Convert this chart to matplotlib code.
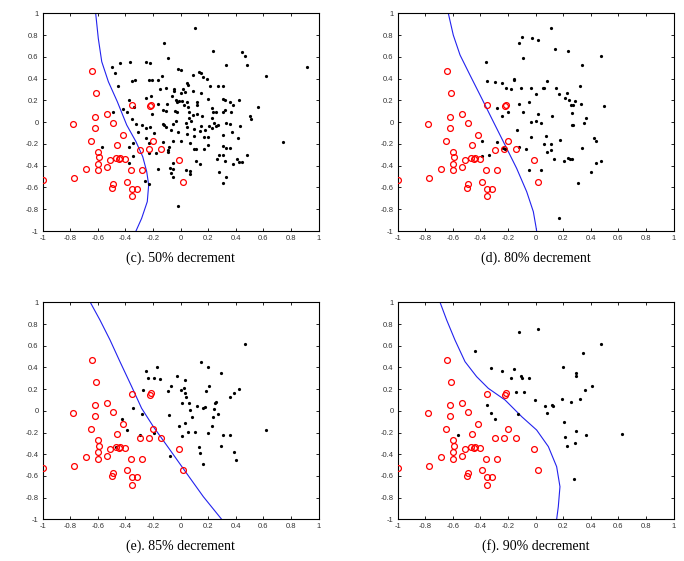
import matplotlib
matplotlib.use("Agg")
import matplotlib.pyplot as plt
import numpy as np

# Minority class (red circles), same in all panels
red_x = [-1.0, -0.78, -0.77, -0.686, -0.643, -0.614, -0.623, -0.623, -0.647, -0.597,
         -0.592, -0.60, -0.597, -0.531, -0.49, -0.51, -0.536, -0.488, -0.50, -0.47,
         -0.449, -0.437, -0.406, -0.459, -0.42, -0.355, -0.362, -0.39, -0.355, -0.32,
         -0.353, -0.28, -0.295, -0.232, -0.225, -0.215, -0.203, -0.145, -0.01, 0.02]
red_y = [-0.53, -0.02, -0.51, -0.43, 0.47, 0.27, 0.05, -0.05, -0.17, -0.27,
         -0.32, -0.38, -0.44, 0.075, -0.01, -0.35, -0.415, -0.57, -0.605, -0.33,
         -0.34, -0.33, -0.34, -0.21, -0.12, 0.155, -0.44, -0.55, -0.61, -0.61,
         -0.68, -0.44, -0.255, -0.25, 0.15, 0.16, -0.17, -0.25, -0.35, -0.55]

# Majority class (black dots), panel (c) 50% decrement
c_x = [0.101, -0.123, -0.094, 0.232, 0.444, 0.469, 0.481, 0.331, 0.918, 0.621,
       -0.5, -0.442, -0.367, -0.249, -0.222, -0.478, -0.454, -0.355, -0.328, -0.229,
       -0.208, -0.133, -0.164, -0.019, 0.002, 0.089, 0.133, 0.147, 0.164, 0.188,
       0.046, 0.051, 0.213, 0.268, 0.309, 0.425, 0.324, 0.309, 0.357, 0.379,
       0.563, 0.5, 0.507, -0.109, -0.147, -0.046, -0.048, 0.019, 0.0, 0.034,
       0.089, 0.147, -0.217, -0.249, -0.372, -0.063, -0.031, -0.01, 0.01, 0.043,
       -0.024, -0.101, -0.164, 0.024, 0.116, 0.196, 0.056, 0.116, -0.128, -0.106,
       -0.208, -0.336, -0.386, -0.42, -0.488, -0.355, -0.326, -0.039, -0.027, 0.058,
       0.089, 0.118, 0.155, 0.063, 0.072, -0.036, 0.036, 0.227, 0.234, 0.256,
       0.304, 0.319, 0.367, 0.225, 0.244, 0.271, 0.208, 0.227, 0.258, 0.329,
       0.357, 0.37, 0.427, -0.283, -0.249, -0.22, -0.193, -0.130, -0.118, -0.104,
       -0.058, -0.068, -0.017, 0.043, 0.046, 0.097, 0.147, 0.14, 0.176, 0.198,
       0.167, 0.097, 0.309, 0.415, -0.251, -0.232, -0.348, -0.372, -0.572, -0.126,
       -0.053, -0.082, -0.094, 0.005, 0.065, 0.097, 0.109, 0.167, 0.2, 0.309,
       0.331, 0.357, -0.094, -0.179, -0.232, -0.348, 0.261, 0.275, 0.304, 0.324,
       0.406, 0.425, 0.483, 0.447, 0.382, -0.058, 0.114, 0.143, -0.075, -0.053,
       0.039, 0.065, 0.07, -0.072, -0.058, -0.162, 0.28, 0.329, 0.304, -0.374,
       -0.256, -0.232, -0.022, 0.744, -0.307]
c_y = [0.862, 0.727, 0.593, 0.657, 0.645, 0.608, 0.522, 0.528, 0.504, 0.421,
       0.507, 0.544, 0.553, 0.556, 0.544, 0.452, 0.332, 0.375, 0.39, 0.384,
       0.387, 0.42, 0.384, 0.49, 0.479, 0.436, 0.464, 0.449, 0.412, 0.397,
       0.363, 0.341, 0.329, 0.332, 0.332, 0.2, 0.204, 0.21, 0.185, 0.161,
       0.142, 0.057, 0.032, 0.317, 0.302, 0.308, 0.289, 0.302, 0.268, 0.28,
       0.289, 0.268, 0.24, 0.219, 0.204, 0.237, 0.207, 0.191, 0.191, 0.182,
       0.185, 0.167, 0.167, 0.158, 0.185, 0.21, 0.139, 0.158, 0.112, 0.103,
       0.075, 0.136, 0.09, 0.12, 0.096, 0.028, -0.017, 0.103, 0.09, 0.09,
       0.063, 0.075, 0.06, 0.04, 0.013, 0.007, -0.009, 0.133, 0.09, 0.096,
       0.096, 0.109, 0.09, 0.038, -0.011, -0.023, -0.032, -0.054, -0.035, -0.011,
       -0.02, -0.087, -0.038, -0.026, -0.054, -0.041, -0.103, -0.02, -0.026, -0.047,
       -0.02, -0.072, -0.09, -0.044, -0.112, -0.06, -0.032, -0.081, -0.075, -0.136,
       -0.139, -0.127, -0.118, -0.149, -0.149, -0.191, -0.191, -0.225, -0.225, -0.179,
       -0.17, -0.225, -0.259, -0.176, -0.194, -0.247, -0.25, -0.247, -0.213, -0.222,
       -0.234, -0.24, -0.274, -0.283, -0.286, -0.308, -0.338, -0.302, -0.305, -0.357,
       -0.341, -0.369, -0.302, -0.363, -0.384, -0.375, -0.36, -0.384, -0.424, -0.433,
       -0.443, -0.446, -0.479, -0.47, -0.504, -0.427, -0.461, -0.504, -0.559, -0.375,
       -0.537, -0.571, -0.767, -0.185, -0.087]

# panel (d) 80% decrement
d_x = [0.109, -0.097, -0.027, 0.019, -0.118, 0.14, 0.234, -0.092, 0.471, 0.338,
       -0.362, -0.35, -0.292, -0.244, -0.159, -0.155, -0.215, -0.181, -0.106, -0.036,
       0.053, 0.063, 0.005, 0.08, 0.15, 0.169, 0.225, 0.213, 0.244, 0.283,
       0.319, 0.331, 0.493, 0.256, 0.273, -0.051, -0.121, -0.278, -0.198, -0.242,
       -0.089, 0.015, 0.116, -0.036, 0.0, 0.039, 0.266, 0.365, 0.261, 0.273,
       0.348, -0.135, 0.077, -0.036, 0.179, 0.42, 0.437, -0.386, -0.278, -0.118,
       -0.072, 0.111, 0.060, 0.114, 0.085, -0.234, -0.222, 0.338, -0.391, -0.338,
       0.135, 0.232, 0.251, 0.266, 0.205, 0.44, 0.473, 0.401, -0.048, 0.041,
       0.309, 0.167]
d_y = [0.862, 0.779, 0.773, 0.752, 0.727, 0.669, 0.657, 0.593, 0.608, 0.528,
       0.55, 0.375, 0.366, 0.363, 0.4, 0.384, 0.317, 0.305, 0.317, 0.311,
       0.311, 0.311, 0.256, 0.381, 0.311, 0.259, 0.271, 0.225, 0.204, 0.198,
       0.329, 0.164, 0.152, 0.158, 0.158, 0.182, 0.164, 0.133, 0.093, 0.06,
       0.09, 0.075, 0.057, 0.003, 0.013, -0.003, 0.084, 0.038, -0.023, -0.023,
       -0.011, -0.075, -0.127, -0.136, -0.164, -0.149, -0.17, -0.176, -0.185, -0.225,
       -0.247, -0.204, -0.2, -0.253, -0.277, -0.234, -0.247, -0.234, -0.308, -0.305,
       -0.338, -0.326, -0.338, -0.338, -0.36, -0.375, -0.36, -0.458, -0.436, -0.443,
       -0.559, -0.884]

# panel (e) 85% decrement
e_x = [0.466, 0.145, 0.196, -0.169, -0.249, 0.29, -0.239, -0.191, -0.147, -0.027,
       0.031, -0.07, 0.208, 0.423, 0.386, 0.357, -0.273, -0.092, 0.002, 0.024,
       0.031, 0.036, 0.184, 0.007, 0.058, 0.121, -0.345, -0.283, 0.068, 0.164,
       0.176, 0.242, 0.251, 0.254, 0.268, 0.237, -0.087, 0.085, -0.423, -0.391,
       -0.012, 0.031, 0.225, -0.297, -0.191, 0.053, 0.104, 0.2, 0.007, 0.309,
       0.357, 0.616, -0.466, 0.13, 0.138, 0.29, 0.384, 0.399, -0.077, 0.164]
e_y = [0.613, 0.453, 0.401, 0.401, 0.367, 0.349, 0.306, 0.306, 0.293, 0.324,
       0.284, 0.226, 0.226, 0.201, 0.164, 0.131, 0.192, 0.18, 0.192, 0.213,
       0.161, 0.124, 0.183, 0.075, 0.075, 0.045, 0.026, -0.029, 0.008, 0.026,
       0.032, 0.014, 0.069, 0.084, -0.026, -0.054, -0.038, -0.054, -0.075, -0.174,
       -0.14, -0.109, -0.14, -0.223, -0.207, -0.198, -0.192, -0.204, -0.232, -0.22,
       -0.22, -0.18, -0.336, -0.336, -0.386, -0.321, -0.382, -0.456, -0.416, -0.487]

# panel (f) 90% decrement
f_x = [0.017, -0.118, 0.471, 0.341, -0.437, 0.2, -0.324, -0.242, -0.155, 0.292,
       0.29, -0.181, -0.106, -0.099, -0.051, 0.406, 0.355, -0.14, -0.087, -0.353,
       -0.002, 0.193, 0.258, 0.321, 0.07, 0.116, 0.126, -0.324, -0.292, -0.128,
       0.08, 0.208, 0.29, -0.565, 0.21, 0.362, 0.623, 0.229, 0.285, 0.28]
f_y = [0.751, 0.73, 0.613, 0.53, 0.548, 0.401, 0.392, 0.364, 0.389, 0.346,
       0.324, 0.306, 0.318, 0.303, 0.306, 0.226, 0.195, 0.177, 0.177, 0.054,
       0.097, 0.112, 0.081, 0.112, 0.041, 0.051, 0.045, -0.023, -0.072, -0.029,
       -0.02, -0.106, -0.189, -0.223, -0.241, -0.223, -0.21, -0.321, -0.293, -0.625]

# Decision boundaries (blue curves)
bc_x = [-0.616, -0.597, -0.572, -0.524, -0.459, -0.391, -0.324, -0.275, -0.246, -0.232, -0.242, -0.283, -0.324]
bc_y = [1.0, 0.77, 0.556, 0.372, 0.188, -0.026, -0.179, -0.317, -0.455, -0.577, -0.73, -0.884, -1.0]
bd_x = [-0.633, -0.597, -0.548, -0.476, -0.391, -0.307, -0.222, -0.138, -0.065, -0.017, 0.002, 0.007]
bd_y = [1.0, 0.8, 0.617, 0.433, 0.219, 0.005, -0.21, -0.424, -0.639, -0.822, -0.96, -1.0]
be_x = [-0.655, -0.585, -0.512, -0.44, -0.355, -0.283, -0.198, -0.077, 0.043, 0.164, 0.297]
be_y = [1.0, 0.837, 0.653, 0.453, 0.223, 0.023, -0.146, -0.361, -0.576, -0.791, -1.0]
bf_x = [-0.693, -0.645, -0.585, -0.512, -0.428, -0.343, -0.222, -0.101, 0.007, 0.092, 0.152, 0.176, 0.164, 0.152]
bf_y = [1.0, 0.837, 0.653, 0.453, 0.315, 0.207, 0.1, -0.054, -0.177, -0.33, -0.515, -0.699, -0.883, -1.0]

captions = ["(c). 50% decrement", "(d). 80% decrement", "(e). 85% decrement", "(f). 90% decrement"]
xticks = [-1, -0.8, -0.6, -0.4, -0.2, 0, 0.2, 0.4, 0.6, 0.8, 1]
yticks = [-1, -0.8, -0.6, -0.4, -0.2, 0, 0.2, 0.4, 0.6, 0.8, 1]

fig = plt.figure(figsize=(6.84, 5.61), dpi=100)
positions = [[0.0624, 0.5882, 0.4035, 0.388],
             [0.5814, 0.5882, 0.4035, 0.388],
             [0.0624, 0.0743, 0.4035, 0.3868],
             [0.5814, 0.0743, 0.4035, 0.3868]]
blacks = [(c_x, c_y), (d_x, d_y), (e_x, e_y), (f_x, f_y)]
bounds = [(bc_x, bc_y), (bd_x, bd_y), (be_x, be_y), (bf_x, bf_y)]

def fmt(v):
    if v == 0:
        return "0"
    if v in (-1, 1):
        return str(int(v))
    return ("%g" % v)

for i in range(4):
    ax = fig.add_axes(positions[i])
    bx, by = blacks[i]
    ax.plot(bx, by, 'o', color='black', markersize=2.3, markeredgewidth=0, zorder=3)
    ax.plot(red_x, red_y, 'o', markerfacecolor='none', markeredgecolor='#ff0000',
            markersize=4.2, markeredgewidth=0.9, zorder=4)
    lx, ly = bounds[i]
    ax.plot(lx, ly, '-', color='#2222ee', linewidth=0.8, zorder=2)
    ax.set_xlim(-1, 1)
    ax.set_ylim(-1, 1)
    ax.set_xticks(xticks)
    ax.set_yticks(yticks)
    ax.set_xticklabels([fmt(v) for v in xticks], fontsize=5.5, family='Liberation Sans', color='#333333')
    ax.set_yticklabels([fmt(v) for v in yticks], fontsize=5.5, family='Liberation Sans', color='#333333')
    ax.tick_params(direction='in', length=2.5, width=0.6, top=True, right=True, pad=3)
    for s in ax.spines.values():
        s.set_linewidth(0.8)
    ax.text(0.5, -0.125, captions[i], transform=ax.transAxes, ha='center', va='center',
            fontsize=10, family='Liberation Serif')

fig.savefig("out.png", dpi=100)
